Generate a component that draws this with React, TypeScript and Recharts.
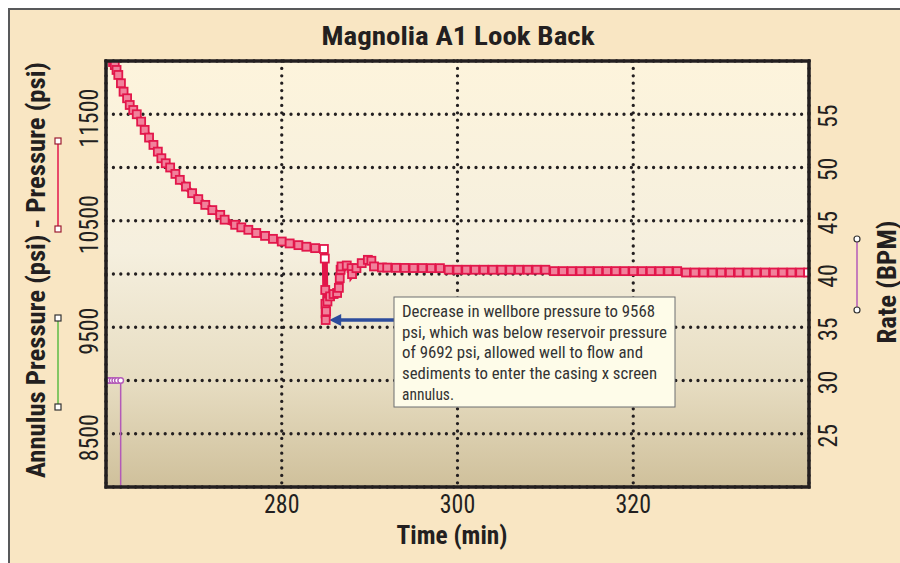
import React from 'react';
import { LineChart, Line, XAxis, YAxis, CartesianGrid, ReferenceLine } from 'recharts';

// Time (min) and pressure (psi)
const pressureTime = [
  260.8, 261.0, 261.2, 261.4, 261.7, 262.0, 262.4, 262.7, 263.1, 263.5,
  264.0, 264.4, 264.9, 265.4, 265.9, 266.3, 266.8, 267.3, 267.9, 268.4,
  269.1, 269.8, 270.5, 271.3, 272.1, 273.0, 273.5, 274.7, 275.4, 276.2,
  277.1, 278.1, 279.0, 280.0, 280.9, 281.9, 282.8, 283.8, 284.8, 284.9,
  284.95, 284.97, 284.99, 285.0, 285.05, 285.2, 285.5, 285.9, 286.3, 286.5,
  286.6, 286.7, 286.8, 287.4, 287.95, 288.0, 288.5, 289.1, 289.8, 290.2,
  290.5, 291.4, 292, 293, 294, 295, 296, 297, 298, 299,
  300, 301, 302, 303, 304, 305, 306, 307, 308, 309,
  310, 311, 312, 313, 314, 315, 316, 317, 318, 319,
  320, 321, 322, 323, 324, 325, 326, 327, 328, 329,
  330, 331, 332, 333, 334, 335, 336, 337, 338, 339,
  339.9,
];
const pressureValues = [
  11990, 11962, 11916, 11869, 11791, 11712, 11650, 11587, 11540, 11500,
  11431, 11353, 11281, 11212, 11149, 11087, 11040, 11000, 10940, 10884,
  10821, 10759, 10703, 10649, 10600, 10555, 10510, 10462, 10438, 10415,
  10385, 10358, 10330, 10305, 10287, 10271, 10256, 10243, 10235, 10145,
  9850, 9720, 9630, 9568, 9650, 9742, 9790, 9812, 9822, 9870,
  9960, 10040, 10071, 10080, 10055, 9999, 10055, 10102, 10133, 10124,
  10071, 10061, 10060, 10058, 10057, 10056, 10056, 10055, 10055, 10040,
  10040, 10040, 10040, 10040, 10040, 10040, 10040, 10040, 10040, 10040,
  10040, 10027, 10027, 10027, 10027, 10027, 10027, 10027, 10027, 10027,
  10027, 10027, 10027, 10027, 10027, 10027, 10014, 10014, 10014, 10014,
  10014, 10014, 10014, 10014, 10014, 10014, 10014, 10014, 10014, 10014,
  10014,
];

// Rate (BPM)
const rateTime = [260.1, 260.4, 260.7, 261.0, 261.3, 261.67, 261.67];
const rateValues = [30, 30, 30, 30, 30, 30, 0];

const timeTicks = [280, 300, 320];
const pressureTicks = [8500, 9000, 9500, 10000, 10500, 11000, 11500];
const rateTicks = [25, 30, 35, 40, 45, 50, 55];

const lowPoint = 9568;
const arrowTip = 285.4;
const arrowTail = 292.8;

const noteLines = [
  'Decrease in wellbore pressure to 9568',
  'psi, which was below reservoir pressure',
  'of 9692 psi, allowed well to flow and',
  'sediments to enter the casing x screen',
  'annulus.',
];
const noteWidths = [253, 265, 241, 255, 52];

const pressureData = pressureTime.map((t, i) => ({ t, p: pressureValues[i] }));
const rateData = rateTime.map((t, i) => ({ t, r: rateValues[i] }));

const NARROW = "'Liberation Sans Narrow', 'Arial Narrow', 'Roboto Condensed', 'DejaVu Sans Condensed', 'Liberation Sans', sans-serif";
const INK = '#231F20';
const RED = '#E2174B';
const MAGENTA = '#B35AB8';

const digitW = 11.8;

const XTick = ({ x, y, payload }: any) => (
  <text x={x} y={y + 18} textAnchor="middle" fontFamily={NARROW} fontSize={25} fill={INK}
    textLength={String(payload.value).length * digitW} lengthAdjust="spacingAndGlyphs">
    {payload.value}
  </text>
);

const LeftTick = ({ y, payload }: any) => {
  if (payload.value % 1000 !== 500) return <g />;
  const s = String(payload.value);
  return (
    <text x={98} y={y + 4} transform={`rotate(-90, 98, ${y + 4})`} textAnchor="middle"
      fontFamily={NARROW} fontSize={25} fill={INK} textLength={s.length * digitW} lengthAdjust="spacingAndGlyphs">
      {s}
    </text>
  );
};

const RightTick = ({ y, payload }: any) => {
  const s = String(payload.value);
  return (
    <text x={837} y={y + 2} transform={`rotate(-90, 837, ${y + 2})`} textAnchor="middle"
      fontFamily={NARROW} fontSize={25} fill={INK} textLength={s.length * digitW} lengthAdjust="spacingAndGlyphs">
      {s}
    </text>
  );
};

const dotted = (props: any) => (
  <line key={`${props.x1}-${props.y1}`} x1={props.x1} y1={props.y1} x2={props.x2} y2={props.y2}
    stroke={INK} strokeWidth={3.3} strokeDasharray="0 7.4" strokeLinecap="round" />
);

const SquareDot = (props: any) => {
  const { cx, cy, index } = props;
  if (cx == null || cy == null) return <g key={index} />;
  const hollow = index === 0 || index === pressureTime.length - 1 || index === 38 || index === 39;
  return (
    <rect key={index} x={cx - 4} y={cy - 4} width={8} height={8}
      fill={hollow ? '#ffffff' : '#F1819B'} stroke={RED} strokeWidth={1.8} />
  );
};

const CircleDot = (props: any) => {
  const { cx, cy, index } = props;
  if (cx == null || cy == null) return <g key={index} />;
  return <circle key={index} cx={cx} cy={cy} r={2.8} fill="#ffffff" stroke={MAGENTA} strokeWidth={1.4} />;
};

const Arrow = (props: any) => {
  const { x1, y1, x2 } = props;
  if (x1 == null) return <g />;
  const y = y1;
  return (
    <g>
      <line x1={x2} y1={y} x2={x1 + 10} y2={y} stroke="#2C4C9C" strokeWidth={3.4} />
      <polygon points={`${x1},${y} ${x1 + 12},${y - 6} ${x1 + 12},${y + 6}`} fill="#2C4C9C" />
    </g>
  );
};

export default function App() {
  return (
    <div style={{
      position: 'fixed', left: 8, top: 8, width: 892, height: 555, boxSizing: 'border-box',
      background: '#F9E6C3', borderLeft: '2px solid #58595B', borderTop: '2px solid #58595B',
    }}>
      <div style={{ position: 'absolute', left: -10, top: -10, width: 900, height: 563 }}>
        <LineChart width={900} height={563} margin={{ top: 61, right: 0, bottom: 0, left: 0 }}>
          <defs>
            <linearGradient id="plotBg" x1="0" y1="0" x2="0" y2="1">
              <stop offset="0%" stopColor="#FDF4DC" />
              <stop offset="45%" stopColor="#F5EFDE" />
              <stop offset="75%" stopColor="#E7DDC2" />
              <stop offset="100%" stopColor="#CFC09B" />
            </linearGradient>
          </defs>
          <CartesianGrid yAxisId="p" fill="url(#plotBg)" fillOpacity={1} horizontal={dotted} vertical={dotted} />
          <XAxis dataKey="t" type="number" domain={[260, 340]} ticks={timeTicks} allowDataOverflow
            height={76} axisLine={false} tickLine={false} tick={XTick} />
          <YAxis yAxisId="p" type="number" domain={[8000, 12000]} ticks={pressureTicks} allowDataOverflow
            width={106} axisLine={false} tickLine={false} tick={LeftTick} />
          <YAxis yAxisId="r" orientation="right" type="number" domain={[20, 60]} ticks={rateTicks} allowDataOverflow
            width={91} axisLine={false} tickLine={false} tick={RightTick} />
          <Line yAxisId="r" data={rateData} dataKey="r" type="linear" stroke={MAGENTA} strokeWidth={1.5}
            dot={CircleDot} activeDot={false} isAnimationActive={false} />
          <Line yAxisId="p" data={pressureData} dataKey="p" type="linear" stroke={RED} strokeWidth={6}
            dot={SquareDot} activeDot={false} isAnimationActive={false} />
          <ReferenceLine yAxisId="p" segment={[{ x: arrowTip, y: lowPoint }, { x: arrowTail, y: lowPoint }]}
            shape={Arrow} ifOverflow="visible" />
        </LineChart>
        <svg width={900} height={563} style={{ position: 'absolute', left: 0, top: 0, pointerEvents: 'none' }}>
          <rect x={106} y={61} width={703} height={426} fill="none" stroke={INK} strokeWidth={3.5} />
          <text x={458} y={45} textAnchor="middle" fontFamily={NARROW} fontWeight="bold" fontSize={25} fill={INK}
            textLength={273} lengthAdjust="spacingAndGlyphs">Magnolia A1 Look Back</text>
          <text x={452} y={544} textAnchor="middle" fontFamily={NARROW} fontWeight="bold" fontSize={26} fill={INK}
            textLength={111} lengthAdjust="spacingAndGlyphs">Time (min)</text>
          <text x={45} y={270} transform="rotate(-90, 45, 270)" textAnchor="middle" fontFamily={NARROW}
            fontWeight="bold" fontSize={26} fill={INK} textLength={416} lengthAdjust="spacingAndGlyphs">
            Annulus Pressure (psi) - Pressure (psi)
          </text>
          <text x={896} y={282} transform="rotate(-90, 896, 282)" textAnchor="middle" fontFamily={NARROW}
            fontWeight="bold" fontSize={26} fill={INK} textLength={123} lengthAdjust="spacingAndGlyphs">
            Rate (BPM)
          </text>

          {/* legend glyphs */}
          <line x1={58} y1={141} x2={58} y2={229} stroke={RED} strokeWidth={1.5} />
          <rect x={55} y={138} width={6} height={6} fill="#fff" stroke="#9B1C31" strokeWidth={1.2} />
          <rect x={55} y={226} width={6} height={6} fill="#fff" stroke="#9B1C31" strokeWidth={1.2} />
          <line x1={58} y1={318} x2={58} y2={407} stroke="#5DBB46" strokeWidth={1.5} />
          <rect x={55} y={315} width={6} height={6} fill="#fff" stroke="#333" strokeWidth={1.2} />
          <rect x={55} y={404} width={6} height={6} fill="#fff" stroke="#333" strokeWidth={1.2} />
          <line x1={857} y1={239} x2={857} y2={310} stroke={MAGENTA} strokeWidth={1.5} />
          <circle cx={857} cy={239} r={3} fill="#fff" stroke="#333" strokeWidth={1.2} />
          <circle cx={857} cy={310} r={3} fill="#fff" stroke="#333" strokeWidth={1.2} />

          {/* annotation */}
          <rect x={394} y={297} width={281} height={110} fill="#FEFCE9" stroke="#6D6E70" strokeWidth={1} />
          {noteLines.map((s, i) => (
            <text key={i} x={402} y={317 + i * 20.7} fontFamily={NARROW} fontSize={16} fill="#333"
              textLength={noteWidths[i]} lengthAdjust="spacingAndGlyphs">{s}</text>
          ))}
        </svg>
      </div>
    </div>
  );
}
